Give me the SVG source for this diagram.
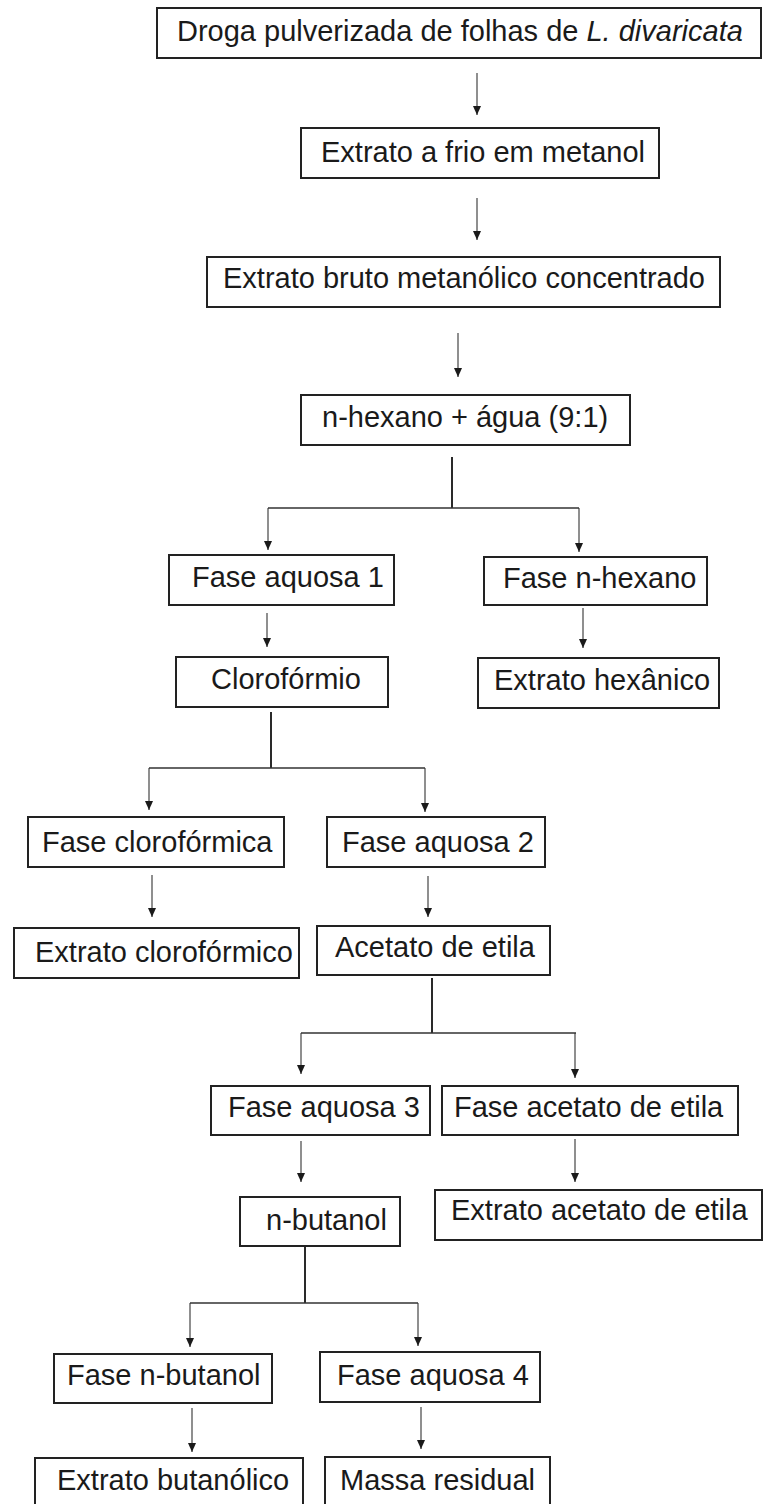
<svg xmlns="http://www.w3.org/2000/svg" width="763" height="1504" viewBox="0 0 763 1504">
<style>
.box{fill:#fff;stroke:#222;stroke-width:2}
.t{font-family:"Liberation Sans",Arial,sans-serif;font-size:29px;fill:#1a1a1a}
.stem{stroke:#2a2a2a;stroke-width:2;fill:none}
.bar{stroke:#333;stroke-width:1.6;fill:none}
.arr{stroke:#333;stroke-width:1.1;fill:none;marker-end:url(#ah)}
</style>
<defs>
<marker id="ah" markerUnits="userSpaceOnUse" markerWidth="9" markerHeight="8" viewBox="0 0 9 8" refX="9" refY="4" orient="auto">
<path d="M0,0 L9,4 L0,8 Z" fill="#1a1a1a"/>
</marker>
</defs>
<rect width="763" height="1504" fill="#fff"/>
<g id="connectors">
<line class="arr" x1="477" y1="73" x2="477" y2="115"/>
<line class="arr" x1="477" y1="198" x2="477" y2="240"/>
<line class="arr" x1="458" y1="333" x2="458" y2="377"/>
<line class="stem" x1="452" y1="457" x2="452" y2="508"/>
<line class="bar" x1="268" y1="508" x2="579" y2="508"/>
<line class="arr" x1="268" y1="508" x2="268" y2="550"/>
<line class="arr" x1="579" y1="508" x2="579" y2="552"/>
<line class="arr" x1="267" y1="613" x2="267" y2="647"/>
<line class="arr" x1="583" y1="608" x2="583" y2="648"/>
<line class="stem" x1="271" y1="712" x2="271" y2="768"/>
<line class="bar" x1="149" y1="768" x2="425" y2="768"/>
<line class="arr" x1="149" y1="768" x2="149" y2="810"/>
<line class="arr" x1="425" y1="768" x2="425" y2="812"/>
<line class="arr" x1="152" y1="875" x2="152" y2="917"/>
<line class="arr" x1="428" y1="876" x2="428" y2="917"/>
<line class="stem" x1="432" y1="978" x2="432" y2="1033"/>
<line class="bar" x1="301" y1="1033" x2="576" y2="1033"/>
<line class="arr" x1="301" y1="1033" x2="301" y2="1074"/>
<line class="arr" x1="575" y1="1033" x2="575" y2="1078"/>
<line class="arr" x1="301" y1="1141" x2="301" y2="1182"/>
<line class="arr" x1="575" y1="1139" x2="575" y2="1182"/>
<line class="stem" x1="305" y1="1246" x2="305" y2="1303"/>
<line class="bar" x1="190" y1="1303" x2="418" y2="1303"/>
<line class="arr" x1="190" y1="1303" x2="190" y2="1347"/>
<line class="arr" x1="418" y1="1303" x2="418" y2="1346"/>
<line class="arr" x1="192" y1="1408" x2="192" y2="1452"/>
<line class="arr" x1="421" y1="1407" x2="421" y2="1449"/>
</g>
<g id="n1"><rect class="box" x="157" y="8" width="604" height="50"/><text class="t" x="177" y="41">Droga pulverizada de folhas de <tspan font-style="italic">L. divaricata</tspan></text></g>
<g id="n2"><rect class="box" x="301" y="128" width="358" height="50"/><text class="t" x="321" y="162">Extrato a frio em metanol</text></g>
<g id="n3"><rect class="box" x="207" y="257" width="513" height="50"/><text class="t" x="223" y="288">Extrato bruto metanólico concentrado</text></g>
<g id="n4"><rect class="box" x="301" y="395" width="329" height="50"/><text class="t" x="322" y="427">n-hexano + água (9:1)</text></g>
<g id="n5"><rect class="box" x="169" y="555" width="225" height="50"/><text class="t" x="192" y="587">Fase aquosa 1</text></g>
<g id="n6"><rect class="box" x="484" y="557" width="223" height="48"/><text class="t" x="503" y="588">Fase n-hexano</text></g>
<g id="n7"><rect class="box" x="176" y="657" width="212" height="50"/><text class="t" x="211" y="689">Clorofórmio</text></g>
<g id="n8"><rect class="box" x="478" y="658" width="241" height="50"/><text class="t" x="494" y="690">Extrato hexânico</text></g>
<g id="n9"><rect class="box" x="28" y="817" width="256" height="50"/><text class="t" x="42" y="852">Fase clorofórmica</text></g>
<g id="n10"><rect class="box" x="327" y="817" width="218" height="50"/><text class="t" x="342" y="852">Fase aquosa 2</text></g>
<g id="n11"><rect class="box" x="14" y="928" width="285" height="50"/><text class="t" x="35" y="962">Extrato clorofórmico</text></g>
<g id="n12"><rect class="box" x="317" y="926" width="233" height="49"/><text class="t" x="335" y="957">Acetato de etila</text></g>
<g id="n13"><rect class="box" x="211" y="1086" width="219" height="49"/><text class="t" x="228" y="1117">Fase aquosa 3</text></g>
<g id="n14"><rect class="box" x="442" y="1086" width="296" height="49"/><text class="t" x="454" y="1117">Fase acetato de etila</text></g>
<g id="n15"><rect class="box" x="240" y="1197" width="160" height="49"/><text class="t" x="266" y="1230">n-butanol</text></g>
<g id="n16"><rect class="box" x="435" y="1190" width="327" height="50"/><text class="t" x="451" y="1220">Extrato acetato de etila</text></g>
<g id="n17"><rect class="box" x="54" y="1354" width="218" height="49"/><text class="t" x="67" y="1385">Fase n-butanol</text></g>
<g id="n18"><rect class="box" x="320" y="1352" width="220" height="50"/><text class="t" x="337" y="1385">Fase aquosa 4</text></g>
<g id="n19"><rect class="box" x="35" y="1458" width="268" height="52"/><text class="t" x="57" y="1490">Extrato butanólico</text></g>
<g id="n20"><rect class="box" x="325" y="1457" width="225" height="53"/><text class="t" x="340" y="1490">Massa residual</text></g>
</svg>
